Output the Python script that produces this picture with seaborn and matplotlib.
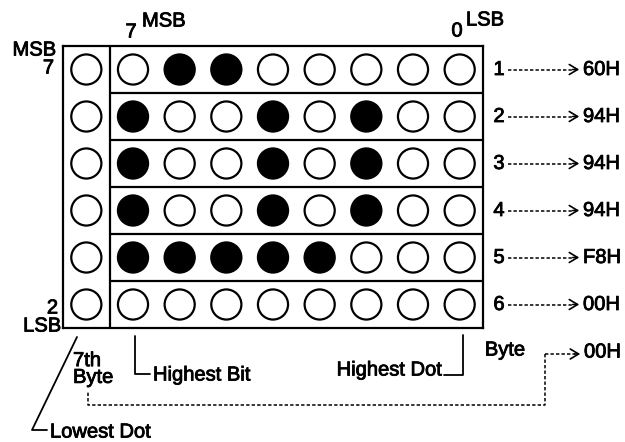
import matplotlib
matplotlib.use("Agg")
import matplotlib.pyplot as plt
import matplotlib.transforms as mtransforms
import matplotlib.patheffects as pe
import seaborn as sns
import pandas as pd

# valores de cada byte (filas 1..6) y del 7mo byte (columna izquierda)
byte_values = [0x60, 0x94, 0x94, 0x94, 0xF8, 0x00]
byte_numbers = ["1", "2", "3", "4", "5", "6"]
seventh_byte = 0x00
seventh_bits = [7, 6, 5, 4, 3, 2]

sns.set_theme(style="white")
plt.rcParams['font.family'] = ['Liberation Sans', 'DejaVu Sans']

W, H = 625, 442
fig = plt.figure(figsize=(6.25, 4.42), dpi=100)

# tabla de puntos
rows = []
for r, val in enumerate(byte_values):
    for c in range(8):
        rows.append({'col': c, 'row': r, 'on': (val >> (7 - c)) & 1})
for r, bit in enumerate(seventh_bits):
    rows.append({'col': -1, 'row': r, 'on': (seventh_byte >> bit) & 1})
dots = pd.DataFrame(rows)

# ejes de la matriz (una celda = una unidad)
gx0, gx1, gy0, gy1 = 63, 483, 46, 328
ax = fig.add_axes([gx0 / W, 1 - gy1 / H, (gx1 - gx0) / W, (gy1 - gy0) / H])
sns.scatterplot(data=dots, x='col', y='row', hue='on',
                palette={0: 'white', 1: 'black'}, edgecolor='black',
                linewidth=1.6, s=470, legend=False, ax=ax, zorder=3)
ax.set_xlim(-1.5, 7.5)
ax.set_ylim(len(byte_values) - 0.5, -0.5)
ax.set_xticks([])
ax.set_yticks([])
ax.set_xlabel('')
ax.set_ylabel('')
for sp in ax.spines.values():
    sp.set_color('black')
    sp.set_linewidth(1.6)
ax.axvline(-0.5, color='black', lw=1.6)
ax.hlines([r + 0.5 for r in range(len(byte_values) - 1)], -0.5, 7.5,
          color='black', lw=1.6)

# capa de anotaciones en pixeles
ov = fig.add_axes([0, 0, 1, 1])
ov.set_xlim(0, W)
ov.set_ylim(H, 0)
ov.axis('off')
ov.patch.set_visible(False)
blend = mtransforms.blended_transform_factory(ov.transData, ax.transData)

fs = 14.5
k = dict(color='black', fontsize=fs,
         path_effects=[pe.withStroke(linewidth=0.6, foreground='black')])
dash = (0, (2.2, 1.4))

ov.text(131, 32, "7", ha='center', va='center', **k)
ov.text(142, 21, "MSB", ha='left', va='center', **k)
ov.text(457, 31, "0", ha='center', va='center', **k)
ov.text(466, 20, "LSB", ha='left', va='center', **k)
ov.text(56, 50, "MSB", ha='right', va='center', **k)
ov.text(54, 68, "7", ha='right', va='center', **k)
ov.text(58, 308, "2", ha='right', va='center', **k)
ov.text(61, 326, "LSB", ha='right', va='center', **k)

# etiquetas de la derecha
for r, (num, val) in enumerate(zip(byte_numbers, byte_values)):
    ov.text(499, r, num, transform=blend, ha='center', va='center', **k)
    ov.plot([508, 572], [r, r], transform=blend, color='black', lw=1.1, ls=dash)
    ov.annotate('', xy=(582, r), xytext=(570, r), xycoords=blend, textcoords=blend,
                arrowprops=dict(arrowstyle='->,head_length=0.5,head_width=0.3',
                                color='black', lw=1.2))
    ov.text(583, r, f"{val:02X}H", transform=blend, ha='left', va='center', **k)

# 7mo byte
ov.text(505, 350, "Byte", ha='center', va='center', **k)
ov.plot([545, 575], [354, 354], color='black', lw=1.1, ls=dash)
ov.annotate('', xy=(583, 354), xytext=(572, 354),
            arrowprops=dict(arrowstyle='->,head_length=0.5,head_width=0.3',
                            color='black', lw=1.2))
ov.text(584, 352, f"{seventh_byte:02X}H", ha='left', va='center', **k)
ov.plot([545, 545, 88, 88], [354, 405, 405, 391], color='black', lw=1.1, ls=dash)
ov.text(73, 369, "7th\nByte", ha='left', va='center', linespacing=0.85, **k)

# Highest Bit / Highest Dot / Lowest Dot
ov.plot([135, 135, 150], [336, 374, 374], color='black', lw=1.3)
ov.text(153, 375, "Highest Bit", ha='left', va='center', **k)
ov.plot([444, 463, 463], [375, 375, 335], color='black', lw=1.3)
ov.text(442, 370, "Highest Dot", ha='right', va='center', **k)
ov.plot([77, 32, 47], [337, 430, 430], color='black', lw=1.3)
ov.text(50, 432, "Lowest Dot", ha='left', va='center', **k)

fig.savefig("out.png", dpi=100, facecolor='white')
